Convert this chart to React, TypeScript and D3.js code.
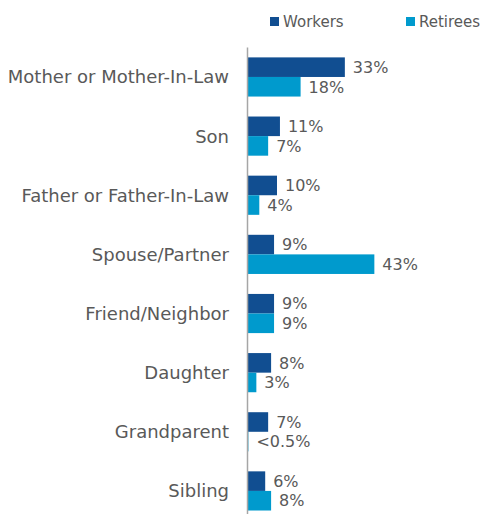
import React from "react";
import * as d3 from "d3";

const categories = [
  "Mother or Mother-In-Law",
  "Son",
  "Father or Father-In-Law",
  "Spouse/Partner",
  "Friend/Neighbor",
  "Daughter",
  "Grandparent",
  "Sibling",
];
const seriesNames = ["Workers", "Retirees"];
const workers = [33, 11, 10, 9, 9, 8, 7, 6];
const retirees = [18, 7, 4, 43, 9, 3, 0.3, 8];
const workerLabels = ["33%", "11%", "10%", "9%", "9%", "8%", "7%", "6%"];
const retireeLabels = ["18%", "7%", "4%", "43%", "9%", "3%", "<0.5%", "8%"];

const colors = ["#114E91", "#009ACD"];
const textColor = "#595959";
const font = "'DejaVu Sans', sans-serif";

export default function App() {
  const W = 484;
  const H = 514;
  const x0 = 247.5;
  const x = d3.scaleLinear().domain([0, 50]).range([x0, x0 + 147.5]);
  const y = d3.scaleBand().domain(categories).range([47.4, 520.5]).paddingInner(0);
  const sub = d3
    .scaleBand()
    .domain(seriesNames)
    .range([0, y.bandwidth()])
    .paddingInner(0)
    .paddingOuter(0.51);
  const series = [workers, retirees];
  const labels = [workerLabels, retireeLabels];

  return (
    <svg
      width={W}
      height={H}
      style={{ position: "absolute", left: 0, top: 0, display: "block" }}
      fontFamily={font}
    >
      <rect width={W} height={H} fill="#fff" />
      {/* legend */}
      {seriesNames.map((s, i) => {
        const lx = i === 0 ? 270 : 406;
        return (
          <g key={s}>
            <rect x={lx} y={17} width={9} height={9} fill={colors[i]} />
            <text x={lx + 13} y={26.5} fontSize={15} fill={textColor}>
              {s}
            </text>
          </g>
        );
      })}
      {/* bars */}
      {categories.map((c, ci) => (
        <g key={c}>
          {series.map((vals, si) => {
            const by = (y(c) as number) + (sub(seriesNames[si]) as number);
            const bw = x(vals[ci]) - x0;
            return (
              <g key={si}>
                <rect x={x0} y={by} width={bw} height={sub.bandwidth()} fill={colors[si]} />
                <text
                  x={x(vals[ci]) + 8}
                  y={by + sub.bandwidth() / 2}
                  dy="0.36em"
                  fontSize={16}
                  fill={textColor}
                >
                  {labels[si][ci]}
                </text>
              </g>
            );
          })}
          <text
            x={229}
            y={(y(c) as number) + y.bandwidth() / 2}
            dy="0.36em"
            textAnchor="end"
            fontSize={18}
            fill={textColor}
          >
            {c}
          </text>
        </g>
      ))}
      {/* axis line */}
      <line x1={x0} x2={x0} y1={47.4} y2={520.5} stroke="#A6A6A6" strokeWidth={1.5} />
    </svg>
  );
}
